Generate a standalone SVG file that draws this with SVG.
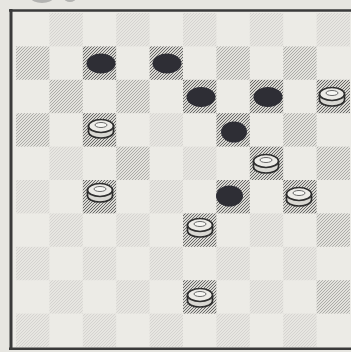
<svg xmlns="http://www.w3.org/2000/svg" xmlns:xlink="http://www.w3.org/1999/xlink" width="351" height="352" viewBox="0 0 351 352">
<defs>
<style>
.sq rect{stroke:none}
.s{fill:url(#hs)}
.m{fill:url(#hm)}
.f{fill:url(#hf)}
.bm{fill:#2e2e36;filter:url(#soft)}
.wm-body{fill:#d9d8d3;stroke:#2f2f2f;stroke-width:1.7}
.wm-top{fill:#ecebe7;stroke:#2f2f2f;stroke-width:1.7}
.wm-hl{fill:#f6f6f3;stroke:#6a6a6a;stroke-width:1}
.border{stroke:#3a3a3a;fill:none}
</style>
<pattern id="hs" patternUnits="userSpaceOnUse" width="3" height="3">
<rect width="3" height="3" fill="#d8d7d2"/>
<path d="M-1,1 l2,-2 M0,3 l3,-3 M2,4 l2,-2" stroke="#5c5c5c" stroke-width="0.9"/>
</pattern>
<pattern id="hm" patternUnits="userSpaceOnUse" width="3" height="3">
<rect width="3" height="3" fill="#e3e2dd"/>
<path d="M-1,1 l2,-2 M0,3 l3,-3 M2,4 l2,-2" stroke="#9a9a97" stroke-width="0.75"/>
</pattern>
<pattern id="hf" patternUnits="userSpaceOnUse" width="3" height="3">
<rect width="3" height="3" fill="#e7e6e1"/>
<path d="M-1,1 l2,-2 M0,3 l3,-3 M2,4 l2,-2" stroke="#cdccc8" stroke-width="0.7"/>
</pattern>
<filter id="soft" x="-20%" y="-20%" width="140%" height="140%"><feGaussianBlur stdDeviation="0.7"/></filter>
<g id="wman">
<path class="wm-body" d="M-12.5,-2 v6 a12.5,6 0 0 0 25,0 v-6"/>
<ellipse class="wm-top" cx="0" cy="-2" rx="12.5" ry="6.5"/>
<ellipse class="wm-hl" cx="0" cy="-3" rx="6" ry="2.5"/>
</g>
</defs>
<rect width="351" height="352" fill="#e7e6e1"/>
<g id="header-remnants" fill="#8a8a8a" opacity="0.55">
<ellipse cx="42" cy="-2" rx="11" ry="5"/>
<ellipse cx="70" cy="-2" rx="6" ry="4"/>
</g>
<rect x="12" y="11" width="339" height="337" fill="#ecebe6"/>
<g id="squares" class="sq">
<rect class="f" x="49.4" y="13" width="33.4" height="33.4"/>
<rect class="f" x="116.2" y="13" width="33.4" height="33.4"/>
<rect class="f" x="183" y="13" width="33.4" height="33.4"/>
<rect class="f" x="249.8" y="13" width="33.4" height="33.4"/>
<rect class="f" x="316.6" y="13" width="33.4" height="33.4"/>
<rect class="m" x="16" y="46.4" width="33.4" height="33.4"/>
<rect class="s" x="82.8" y="46.4" width="33.4" height="33.4"/>
<rect class="s" x="149.6" y="46.4" width="33.4" height="33.4"/>
<rect class="m" x="216.4" y="46.4" width="33.4" height="33.4"/>
<rect class="m" x="283.2" y="46.4" width="33.4" height="33.4"/>
<rect class="m" x="49.4" y="79.8" width="33.4" height="33.4"/>
<rect class="m" x="116.2" y="79.8" width="33.4" height="33.4"/>
<rect class="s" x="183" y="79.8" width="33.4" height="33.4"/>
<rect class="s" x="249.8" y="79.8" width="33.4" height="33.4"/>
<rect class="s" x="316.6" y="79.8" width="33.4" height="33.4"/>
<rect class="m" x="16" y="113.2" width="33.4" height="33.4"/>
<rect class="s" x="82.8" y="113.2" width="33.4" height="33.4"/>
<rect class="f" x="149.6" y="113.2" width="33.4" height="33.4"/>
<rect class="s" x="216.4" y="113.2" width="33.4" height="33.4"/>
<rect class="m" x="283.2" y="113.2" width="33.4" height="33.4"/>
<rect class="f" x="49.4" y="146.6" width="33.4" height="33.4"/>
<rect class="m" x="116.2" y="146.6" width="33.4" height="33.4"/>
<rect class="f" x="183" y="146.6" width="33.4" height="33.4"/>
<rect class="s" x="249.8" y="146.6" width="33.4" height="33.4"/>
<rect class="m" x="316.6" y="146.6" width="33.4" height="33.4"/>
<rect class="f" x="16" y="180" width="33.4" height="33.4"/>
<rect class="s" x="82.8" y="180" width="33.4" height="33.4"/>
<rect class="f" x="149.6" y="180" width="33.4" height="33.4"/>
<rect class="s" x="216.4" y="180" width="33.4" height="33.4"/>
<rect class="s" x="283.2" y="180" width="33.4" height="33.4"/>
<rect class="f" x="49.4" y="213.4" width="33.4" height="33.4"/>
<rect class="f" x="116.2" y="213.4" width="33.4" height="33.4"/>
<rect class="s" x="183" y="213.4" width="33.4" height="33.4"/>
<rect class="f" x="249.8" y="213.4" width="33.4" height="33.4"/>
<rect class="m" x="316.6" y="213.4" width="33.4" height="33.4"/>
<rect class="f" x="16" y="246.8" width="33.4" height="33.4"/>
<rect class="f" x="82.8" y="246.8" width="33.4" height="33.4"/>
<rect class="f" x="149.6" y="246.8" width="33.4" height="33.4"/>
<rect class="f" x="216.4" y="246.8" width="33.4" height="33.4"/>
<rect class="f" x="283.2" y="246.8" width="33.4" height="33.4"/>
<rect class="f" x="49.4" y="280.2" width="33.4" height="33.4"/>
<rect class="f" x="116.2" y="280.2" width="33.4" height="33.4"/>
<rect class="s" x="183" y="280.2" width="33.4" height="33.4"/>
<rect class="f" x="249.8" y="280.2" width="33.4" height="33.4"/>
<rect class="m" x="316.6" y="280.2" width="33.4" height="33.4"/>
<rect class="f" x="16" y="313.6" width="33.4" height="33.4"/>
<rect class="f" x="82.8" y="313.6" width="33.4" height="33.4"/>
<rect class="f" x="149.6" y="313.6" width="33.4" height="33.4"/>
<rect class="f" x="216.4" y="313.6" width="33.4" height="33.4"/>
<rect class="f" x="283.2" y="313.6" width="33.4" height="33.4"/>
</g>
<g id="border" class="border">
<line x1="9" y1="10.5" x2="351" y2="10.5" stroke-width="2.5"/>
<line x1="11" y1="9" x2="11" y2="350" stroke-width="3"/>
<line x1="9" y1="348.8" x2="351" y2="348.8" stroke-width="2.5"/>
</g>
<g id="black-pieces">
<ellipse id="b1" class="bm" cx="101" cy="63.5" rx="14.5" ry="10"/>
<ellipse id="b2" class="bm" cx="167" cy="63.5" rx="14.5" ry="10"/>
<ellipse id="b3" class="bm" cx="201" cy="97" rx="14.5" ry="10"/>
<ellipse id="b4" class="bm" cx="268" cy="97" rx="14.5" ry="10"/>
<ellipse id="b5" class="bm" cx="234" cy="132" rx="13" ry="10.5"/>
<ellipse id="b6" class="bm" cx="229.5" cy="196" rx="13.5" ry="10.5"/>
</g>
<g id="white-pieces">
<use id="w1" xlink:href="#wman" x="332" y="96"/>
<use id="w2" xlink:href="#wman" x="101" y="128"/>
<use id="w3" xlink:href="#wman" x="266" y="163"/>
<use id="w4" xlink:href="#wman" x="100" y="192"/>
<use id="w5" xlink:href="#wman" x="299" y="196"/>
<use id="w6" xlink:href="#wman" x="200" y="227"/>
<use id="w7" xlink:href="#wman" x="200" y="297"/>
</g>
</svg>
